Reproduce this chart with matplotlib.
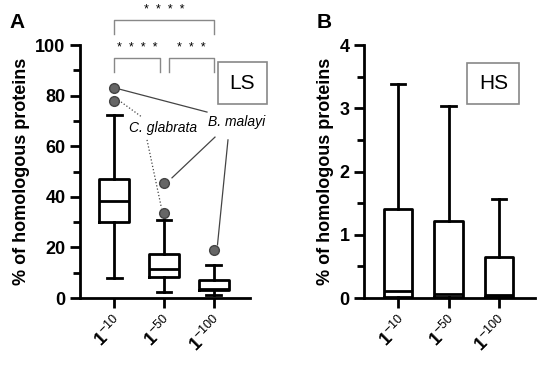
import matplotlib
matplotlib.use("Agg")
import matplotlib.pyplot as plt
from matplotlib.ticker import MultipleLocator

plt.rcParams['font.family'] = ['Liberation Sans', 'DejaVu Sans']
plt.rcParams['mathtext.fontset'] = 'custom'
plt.rcParams['mathtext.rm'] = 'Liberation Sans'
plt.rcParams['mathtext.bf'] = 'Liberation Sans:bold'
plt.rcParams['mathtext.it'] = 'Liberation Sans:italic'

categories = [r'$\mathbf{1}^{-10}$', r'$\mathbf{1}^{-50}$', r'$\mathbf{1}^{-100}$']

# Panel A (LS)
ls_whislo = [8, 2.5, 1]
ls_q1 = [30, 8.5, 3]
ls_med = [38.5, 11.5, 3.5]
ls_q3 = [47, 17.5, 7]
ls_whishi = [72.5, 31, 13]
ls_fliers = [[83, 78], [45.5, 33.5], [19]]

# Panel B (HS)
hs_whislo = [0, 0, 0]
hs_q1 = [0.02, 0.02, 0.02]
hs_med = [0.11, 0.06, 0.04]
hs_q3 = [1.4, 1.22, 0.65]
hs_whishi = [3.38, 3.03, 1.56]

def stats(lo, q1, med, q3, hi, fl=None):
    out = []
    for i in range(len(lo)):
        out.append(dict(whislo=lo[i], q1=q1[i], med=med[i], q3=q3[i], whishi=hi[i],
                        fliers=(fl[i] if fl else [])))
    return out

fig = plt.figure(figsize=(5.5, 3.68), dpi=100)
axA = fig.add_axes([0.1455, 0.1902, 0.309, 0.6875])
axB = fig.add_axes([0.6618, 0.1902, 0.311, 0.6875])

lw = 2.0
props = dict(
    boxprops=dict(color='black', linewidth=lw),
    whiskerprops=dict(color='black', linewidth=lw),
    capprops=dict(color='black', linewidth=lw),
    medianprops=dict(color='black', linewidth=lw),
    flierprops=dict(marker='o', markerfacecolor='#666666', markeredgecolor='#444444',
                    markersize=7, linestyle='none'),
)

pos = [0, 1, 2]
axA.bxp(stats(ls_whislo, ls_q1, ls_med, ls_q3, ls_whishi, ls_fliers), positions=pos,
        widths=0.6, showfliers=True, **props)
axB.bxp(stats(hs_whislo, hs_q1, hs_med, hs_q3, hs_whishi), positions=pos,
        widths=0.56, showfliers=False, **props)

for ax, top, major, minor in [(axA, 100, 20, 10), (axB, 4, 1, 0.5)]:
    ax.set_xlim(-0.68, 2.72)
    ax.set_ylim(0, top)
    ax.yaxis.set_major_locator(MultipleLocator(major))
    ax.yaxis.set_minor_locator(MultipleLocator(minor))
    ax.spines['top'].set_visible(False)
    ax.spines['right'].set_visible(False)
    ax.spines['left'].set_linewidth(lw)
    ax.spines['bottom'].set_linewidth(lw)
    ax.tick_params(axis='both', which='major', width=lw, length=7, labelsize=13)
    ax.tick_params(axis='y', which='minor', width=lw, length=5)
    ax.set_xticks(pos)
    ax.set_xticklabels(categories, rotation=45, ha='right', rotation_mode='anchor', fontsize=13)
    for t in ax.get_yticklabels():
        t.set_fontweight('bold')
    ax.set_ylabel('% of homologous proteins', fontsize=13, fontweight='bold', labelpad=4)

# Significance brackets on A
gc = '#888888'
def bracket(ax, x1, x2, y, h, txt):
    ax.plot([x1, x1, x2, x2], [y - h, y, y, y - h], color=gc, lw=1, clip_on=False)
    ax.text((x1 + x2) / 2, y + 1.5, txt, ha='center', va='bottom', fontsize=9, clip_on=False)

bracket(axA, 0, 2, 110, 5.5, '*  *  *  *')
bracket(axA, 0, 0.92, 95, 5.5, '*  *  *  *')
bracket(axA, 1.1, 2, 95, 5.5, '*  *  *')

# Annotations
axA.text(0.98, 67, 'C. glabrata', style='italic', fontsize=10, ha='center', va='center')
axA.text(2.46, 69.5, 'B. malayi', style='italic', fontsize=10, ha='center', va='center',
         clip_on=False)
lc = '#444444'
axA.plot([0.12, 1.86], [82.5, 73.5], color=lc, lw=0.9, clip_on=False)
axA.plot([2.02, 1.16], [63.6, 47.5], color=lc, lw=0.9, clip_on=False)
axA.plot([2.28, 2.07], [62.5, 21], color=lc, lw=0.9, clip_on=False)
axA.plot([0.14, 0.56], [77.5, 71.5], color=lc, lw=0.9, ls=':')
axA.plot([0.66, 0.95], [62.5, 35.5], color=lc, lw=0.9, ls=':')

# Label boxes
fig.text(0.441, 0.774, 'LS', fontsize=15, ha='center', va='center',
         bbox=dict(boxstyle='square,pad=0.55', fc='white', ec='#888888', lw=1.2))
fig.text(0.897, 0.773, 'HS', fontsize=15, ha='center', va='center',
         bbox=dict(boxstyle='square,pad=0.55', fc='white', ec='#888888', lw=1.2))

fig.text(0.031, 0.94, 'A', fontsize=15, fontweight='bold', ha='center', va='center')
fig.text(0.589, 0.94, 'B', fontsize=15, fontweight='bold', ha='center', va='center')

fig.savefig('out.png', dpi=100)
